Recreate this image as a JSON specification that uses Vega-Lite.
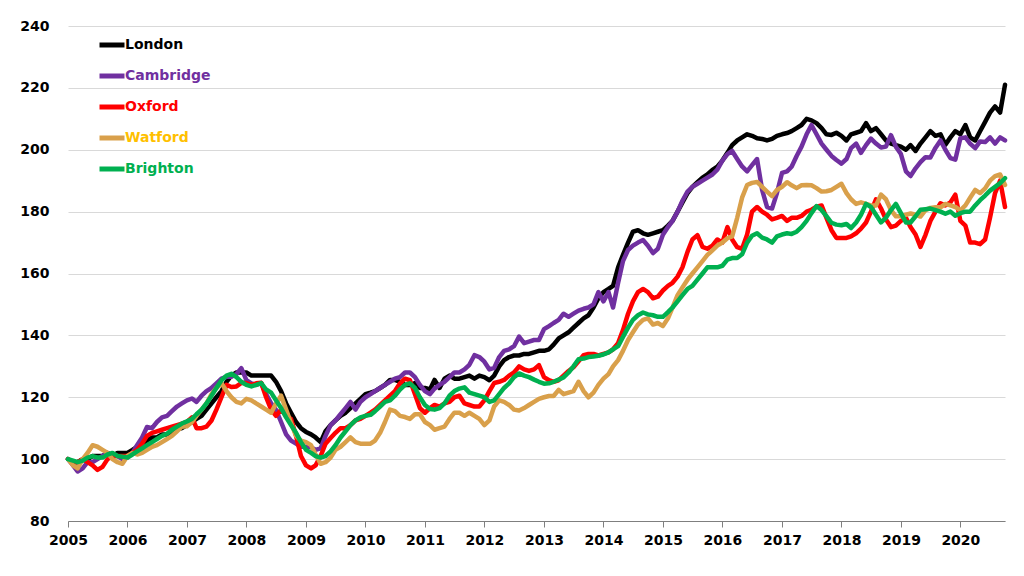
{
"$schema": "https://vega.github.io/schema/vega-lite/v6.json",
"width": 937, "height": 495,
"autosize": "none",
"padding": {"left": 68, "top": 26, "right": 19, "bottom": 55},
"background": "white",
"config": {"view": {"stroke": null}, "font": "DejaVu Sans"},
"data": {"format": {"parse": {"d": "utc:'%Y-%m'"}}, "values": [
{"d":"2005-01","s":"London","v":100},{"d":"2005-02","s":"London","v":99},{"d":"2005-03","s":"London","v":99},{"d":"2005-04","s":"London","v":100},{"d":"2005-05","s":"London","v":100},{"d":"2005-06","s":"London","v":101},{"d":"2005-07","s":"London","v":101},{"d":"2005-08","s":"London","v":101},{"d":"2005-09","s":"London","v":102},{"d":"2005-10","s":"London","v":101},{"d":"2005-11","s":"London","v":102},{"d":"2005-12","s":"London","v":102},
{"d":"2006-01","s":"London","v":102},{"d":"2006-02","s":"London","v":103},{"d":"2006-03","s":"London","v":104},{"d":"2006-04","s":"London","v":105},{"d":"2006-05","s":"London","v":106},{"d":"2006-06","s":"London","v":107},{"d":"2006-07","s":"London","v":107},{"d":"2006-08","s":"London","v":108},{"d":"2006-09","s":"London","v":108},{"d":"2006-10","s":"London","v":109},{"d":"2006-11","s":"London","v":110},{"d":"2006-12","s":"London","v":110},
{"d":"2007-01","s":"London","v":111},{"d":"2007-02","s":"London","v":112},{"d":"2007-03","s":"London","v":113},{"d":"2007-04","s":"London","v":114},{"d":"2007-05","s":"London","v":116},{"d":"2007-06","s":"London","v":118},{"d":"2007-07","s":"London","v":120},{"d":"2007-08","s":"London","v":122},{"d":"2007-09","s":"London","v":125},{"d":"2007-10","s":"London","v":127},{"d":"2007-11","s":"London","v":128},{"d":"2007-12","s":"London","v":128},
{"d":"2008-01","s":"London","v":128},{"d":"2008-02","s":"London","v":127},{"d":"2008-03","s":"London","v":127},{"d":"2008-04","s":"London","v":127},{"d":"2008-05","s":"London","v":127},{"d":"2008-06","s":"London","v":127},{"d":"2008-07","s":"London","v":125},{"d":"2008-08","s":"London","v":122},{"d":"2008-09","s":"London","v":118},{"d":"2008-10","s":"London","v":115},{"d":"2008-11","s":"London","v":112},{"d":"2008-12","s":"London","v":110},
{"d":"2009-01","s":"London","v":108.8},{"d":"2009-02","s":"London","v":108},{"d":"2009-03","s":"London","v":107},{"d":"2009-04","s":"London","v":105.5},{"d":"2009-05","s":"London","v":109},{"d":"2009-06","s":"London","v":111},{"d":"2009-07","s":"London","v":112.5},{"d":"2009-08","s":"London","v":114},{"d":"2009-09","s":"London","v":115},{"d":"2009-10","s":"London","v":116.5},{"d":"2009-11","s":"London","v":118},{"d":"2009-12","s":"London","v":119.5},
{"d":"2010-01","s":"London","v":121},{"d":"2010-02","s":"London","v":121.5},{"d":"2010-03","s":"London","v":122},{"d":"2010-04","s":"London","v":123},{"d":"2010-05","s":"London","v":124},{"d":"2010-06","s":"London","v":125.6},{"d":"2010-07","s":"London","v":125.6},{"d":"2010-08","s":"London","v":125},{"d":"2010-09","s":"London","v":124},{"d":"2010-10","s":"London","v":124},{"d":"2010-11","s":"London","v":124.6},{"d":"2010-12","s":"London","v":123},
{"d":"2011-01","s":"London","v":123},{"d":"2011-02","s":"London","v":122.5},{"d":"2011-03","s":"London","v":125.6},{"d":"2011-04","s":"London","v":123},{"d":"2011-05","s":"London","v":126},{"d":"2011-06","s":"London","v":127},{"d":"2011-07","s":"London","v":126},{"d":"2011-08","s":"London","v":126},{"d":"2011-09","s":"London","v":126.5},{"d":"2011-10","s":"London","v":127},{"d":"2011-11","s":"London","v":126},{"d":"2011-12","s":"London","v":127},
{"d":"2012-01","s":"London","v":126.5},{"d":"2012-02","s":"London","v":125.5},{"d":"2012-03","s":"London","v":127},{"d":"2012-04","s":"London","v":130},{"d":"2012-05","s":"London","v":132},{"d":"2012-06","s":"London","v":133},{"d":"2012-07","s":"London","v":133.5},{"d":"2012-08","s":"London","v":133.5},{"d":"2012-09","s":"London","v":134},{"d":"2012-10","s":"London","v":134},{"d":"2012-11","s":"London","v":134.5},{"d":"2012-12","s":"London","v":135},
{"d":"2013-01","s":"London","v":135},{"d":"2013-02","s":"London","v":135.5},{"d":"2013-03","s":"London","v":137},{"d":"2013-04","s":"London","v":139},{"d":"2013-05","s":"London","v":140},{"d":"2013-06","s":"London","v":141},{"d":"2013-07","s":"London","v":142.5},{"d":"2013-08","s":"London","v":144},{"d":"2013-09","s":"London","v":145.5},{"d":"2013-10","s":"London","v":146.5},{"d":"2013-11","s":"London","v":149},{"d":"2013-12","s":"London","v":152},
{"d":"2014-01","s":"London","v":154},{"d":"2014-02","s":"London","v":155},{"d":"2014-03","s":"London","v":156},{"d":"2014-04","s":"London","v":162},{"d":"2014-05","s":"London","v":166},{"d":"2014-06","s":"London","v":170},{"d":"2014-07","s":"London","v":173.5},{"d":"2014-08","s":"London","v":174},{"d":"2014-09","s":"London","v":173},{"d":"2014-10","s":"London","v":172.5},{"d":"2014-11","s":"London","v":173},{"d":"2014-12","s":"London","v":173.5},
{"d":"2015-01","s":"London","v":174},{"d":"2015-02","s":"London","v":175.5},{"d":"2015-03","s":"London","v":177},{"d":"2015-04","s":"London","v":180},{"d":"2015-05","s":"London","v":183},{"d":"2015-06","s":"London","v":186},{"d":"2015-07","s":"London","v":188},{"d":"2015-08","s":"London","v":189.5},{"d":"2015-09","s":"London","v":191},{"d":"2015-10","s":"London","v":192},{"d":"2015-11","s":"London","v":193.5},{"d":"2015-12","s":"London","v":194.5},
{"d":"2016-01","s":"London","v":196.5},{"d":"2016-02","s":"London","v":199},{"d":"2016-03","s":"London","v":201.5},{"d":"2016-04","s":"London","v":203},{"d":"2016-05","s":"London","v":204},{"d":"2016-06","s":"London","v":205},{"d":"2016-07","s":"London","v":204.5},{"d":"2016-08","s":"London","v":203.7},{"d":"2016-09","s":"London","v":203.5},{"d":"2016-10","s":"London","v":203},{"d":"2016-11","s":"London","v":203.5},{"d":"2016-12","s":"London","v":204.5},
{"d":"2017-01","s":"London","v":205},{"d":"2017-02","s":"London","v":205.4},{"d":"2017-03","s":"London","v":206},{"d":"2017-04","s":"London","v":207},{"d":"2017-05","s":"London","v":208},{"d":"2017-06","s":"London","v":210},{"d":"2017-07","s":"London","v":209.5},{"d":"2017-08","s":"London","v":208.6},{"d":"2017-09","s":"London","v":207},{"d":"2017-10","s":"London","v":205},{"d":"2017-11","s":"London","v":204.8},{"d":"2017-12","s":"London","v":205.5},
{"d":"2018-01","s":"London","v":204.5},{"d":"2018-02","s":"London","v":203},{"d":"2018-03","s":"London","v":205},{"d":"2018-04","s":"London","v":205.5},{"d":"2018-05","s":"London","v":206},{"d":"2018-06","s":"London","v":208.6},{"d":"2018-07","s":"London","v":206},{"d":"2018-08","s":"London","v":207},{"d":"2018-09","s":"London","v":205},{"d":"2018-10","s":"London","v":203},{"d":"2018-11","s":"London","v":202},{"d":"2018-12","s":"London","v":201.5},
{"d":"2019-01","s":"London","v":201},{"d":"2019-02","s":"London","v":200},{"d":"2019-03","s":"London","v":201.5},{"d":"2019-04","s":"London","v":199.6},{"d":"2019-05","s":"London","v":202},{"d":"2019-06","s":"London","v":204},{"d":"2019-07","s":"London","v":206},{"d":"2019-08","s":"London","v":204.5},{"d":"2019-09","s":"London","v":205},{"d":"2019-10","s":"London","v":201.6},{"d":"2019-11","s":"London","v":204},{"d":"2019-12","s":"London","v":206},
{"d":"2020-01","s":"London","v":205},{"d":"2020-02","s":"London","v":208},{"d":"2020-03","s":"London","v":204},{"d":"2020-04","s":"London","v":203},{"d":"2020-05","s":"London","v":206},{"d":"2020-06","s":"London","v":209},{"d":"2020-07","s":"London","v":212},{"d":"2020-08","s":"London","v":214},{"d":"2020-09","s":"London","v":212},{"d":"2020-10","s":"London","v":221},
{"d":"2005-01","s":"Cambridge","v":100},{"d":"2005-02","s":"Cambridge","v":98},{"d":"2005-03","s":"Cambridge","v":96},{"d":"2005-04","s":"Cambridge","v":97},{"d":"2005-05","s":"Cambridge","v":99},{"d":"2005-06","s":"Cambridge","v":99},{"d":"2005-07","s":"Cambridge","v":100},{"d":"2005-08","s":"Cambridge","v":101},{"d":"2005-09","s":"Cambridge","v":102},{"d":"2005-10","s":"Cambridge","v":101},{"d":"2005-11","s":"Cambridge","v":101},{"d":"2005-12","s":"Cambridge","v":100},
{"d":"2006-01","s":"Cambridge","v":100.5},{"d":"2006-02","s":"Cambridge","v":102},{"d":"2006-03","s":"Cambridge","v":104.5},{"d":"2006-04","s":"Cambridge","v":107},{"d":"2006-05","s":"Cambridge","v":110.4},{"d":"2006-06","s":"Cambridge","v":110},{"d":"2006-07","s":"Cambridge","v":112},{"d":"2006-08","s":"Cambridge","v":113.5},{"d":"2006-09","s":"Cambridge","v":114},{"d":"2006-10","s":"Cambridge","v":115.5},{"d":"2006-11","s":"Cambridge","v":117},{"d":"2006-12","s":"Cambridge","v":118},
{"d":"2007-01","s":"Cambridge","v":119},{"d":"2007-02","s":"Cambridge","v":119.6},{"d":"2007-03","s":"Cambridge","v":118.5},{"d":"2007-04","s":"Cambridge","v":120.5},{"d":"2007-05","s":"Cambridge","v":122},{"d":"2007-06","s":"Cambridge","v":123},{"d":"2007-07","s":"Cambridge","v":124.5},{"d":"2007-08","s":"Cambridge","v":126},{"d":"2007-09","s":"Cambridge","v":126.6},{"d":"2007-10","s":"Cambridge","v":126.6},{"d":"2007-11","s":"Cambridge","v":127.5},{"d":"2007-12","s":"Cambridge","v":129.4},
{"d":"2008-01","s":"Cambridge","v":125.5},{"d":"2008-02","s":"Cambridge","v":124.5},{"d":"2008-03","s":"Cambridge","v":124},{"d":"2008-04","s":"Cambridge","v":124.6},{"d":"2008-05","s":"Cambridge","v":121},{"d":"2008-06","s":"Cambridge","v":118},{"d":"2008-07","s":"Cambridge","v":115.9},{"d":"2008-08","s":"Cambridge","v":112},{"d":"2008-09","s":"Cambridge","v":108},{"d":"2008-10","s":"Cambridge","v":106},{"d":"2008-11","s":"Cambridge","v":105},{"d":"2008-12","s":"Cambridge","v":104},
{"d":"2009-01","s":"Cambridge","v":104},{"d":"2009-02","s":"Cambridge","v":103.8},{"d":"2009-03","s":"Cambridge","v":103},{"d":"2009-04","s":"Cambridge","v":103.5},{"d":"2009-05","s":"Cambridge","v":107.5},{"d":"2009-06","s":"Cambridge","v":111},{"d":"2009-07","s":"Cambridge","v":112.5},{"d":"2009-08","s":"Cambridge","v":114.5},{"d":"2009-09","s":"Cambridge","v":116.5},{"d":"2009-10","s":"Cambridge","v":118.5},{"d":"2009-11","s":"Cambridge","v":116},{"d":"2009-12","s":"Cambridge","v":118.5},
{"d":"2010-01","s":"Cambridge","v":120},{"d":"2010-02","s":"Cambridge","v":121},{"d":"2010-03","s":"Cambridge","v":122},{"d":"2010-04","s":"Cambridge","v":123},{"d":"2010-05","s":"Cambridge","v":124},{"d":"2010-06","s":"Cambridge","v":125},{"d":"2010-07","s":"Cambridge","v":126},{"d":"2010-08","s":"Cambridge","v":126.5},{"d":"2010-09","s":"Cambridge","v":128},{"d":"2010-10","s":"Cambridge","v":128},{"d":"2010-11","s":"Cambridge","v":126.5},{"d":"2010-12","s":"Cambridge","v":124},
{"d":"2011-01","s":"Cambridge","v":122},{"d":"2011-02","s":"Cambridge","v":121},{"d":"2011-03","s":"Cambridge","v":122.8},{"d":"2011-04","s":"Cambridge","v":124},{"d":"2011-05","s":"Cambridge","v":125},{"d":"2011-06","s":"Cambridge","v":126.5},{"d":"2011-07","s":"Cambridge","v":128},{"d":"2011-08","s":"Cambridge","v":128},{"d":"2011-09","s":"Cambridge","v":129},{"d":"2011-10","s":"Cambridge","v":130.5},{"d":"2011-11","s":"Cambridge","v":133.6},{"d":"2011-12","s":"Cambridge","v":133},
{"d":"2012-01","s":"Cambridge","v":131.5},{"d":"2012-02","s":"Cambridge","v":129},{"d":"2012-03","s":"Cambridge","v":129.5},{"d":"2012-04","s":"Cambridge","v":133},{"d":"2012-05","s":"Cambridge","v":135},{"d":"2012-06","s":"Cambridge","v":135.5},{"d":"2012-07","s":"Cambridge","v":136.5},{"d":"2012-08","s":"Cambridge","v":139.6},{"d":"2012-09","s":"Cambridge","v":137.5},{"d":"2012-10","s":"Cambridge","v":138},{"d":"2012-11","s":"Cambridge","v":138.5},{"d":"2012-12","s":"Cambridge","v":138.5},
{"d":"2013-01","s":"Cambridge","v":142},{"d":"2013-02","s":"Cambridge","v":143},{"d":"2013-03","s":"Cambridge","v":144},{"d":"2013-04","s":"Cambridge","v":145},{"d":"2013-05","s":"Cambridge","v":147},{"d":"2013-06","s":"Cambridge","v":146},{"d":"2013-07","s":"Cambridge","v":147},{"d":"2013-08","s":"Cambridge","v":148},{"d":"2013-09","s":"Cambridge","v":148.6},{"d":"2013-10","s":"Cambridge","v":149},{"d":"2013-11","s":"Cambridge","v":150},{"d":"2013-12","s":"Cambridge","v":154},
{"d":"2014-01","s":"Cambridge","v":151},{"d":"2014-02","s":"Cambridge","v":154},{"d":"2014-03","s":"Cambridge","v":149},{"d":"2014-04","s":"Cambridge","v":157},{"d":"2014-05","s":"Cambridge","v":164},{"d":"2014-06","s":"Cambridge","v":167.6},{"d":"2014-07","s":"Cambridge","v":169},{"d":"2014-08","s":"Cambridge","v":170},{"d":"2014-09","s":"Cambridge","v":170.8},{"d":"2014-10","s":"Cambridge","v":169},{"d":"2014-11","s":"Cambridge","v":166.6},{"d":"2014-12","s":"Cambridge","v":168},
{"d":"2015-01","s":"Cambridge","v":172.5},{"d":"2015-02","s":"Cambridge","v":175},{"d":"2015-03","s":"Cambridge","v":177},{"d":"2015-04","s":"Cambridge","v":180},{"d":"2015-05","s":"Cambridge","v":183.5},{"d":"2015-06","s":"Cambridge","v":186.5},{"d":"2015-07","s":"Cambridge","v":188},{"d":"2015-08","s":"Cambridge","v":189},{"d":"2015-09","s":"Cambridge","v":190},{"d":"2015-10","s":"Cambridge","v":191},{"d":"2015-11","s":"Cambridge","v":192},{"d":"2015-12","s":"Cambridge","v":193.6},
{"d":"2016-01","s":"Cambridge","v":196.5},{"d":"2016-02","s":"Cambridge","v":198.6},{"d":"2016-03","s":"Cambridge","v":199.6},{"d":"2016-04","s":"Cambridge","v":197},{"d":"2016-05","s":"Cambridge","v":194.6},{"d":"2016-06","s":"Cambridge","v":193},{"d":"2016-07","s":"Cambridge","v":195},{"d":"2016-08","s":"Cambridge","v":197},{"d":"2016-09","s":"Cambridge","v":187},{"d":"2016-10","s":"Cambridge","v":181.5},{"d":"2016-11","s":"Cambridge","v":181},{"d":"2016-12","s":"Cambridge","v":186},
{"d":"2017-01","s":"Cambridge","v":192.5},{"d":"2017-02","s":"Cambridge","v":193},{"d":"2017-03","s":"Cambridge","v":194.5},{"d":"2017-04","s":"Cambridge","v":198},{"d":"2017-05","s":"Cambridge","v":201},{"d":"2017-06","s":"Cambridge","v":205},{"d":"2017-07","s":"Cambridge","v":208},{"d":"2017-08","s":"Cambridge","v":205},{"d":"2017-09","s":"Cambridge","v":202},{"d":"2017-10","s":"Cambridge","v":200},{"d":"2017-11","s":"Cambridge","v":198},{"d":"2017-12","s":"Cambridge","v":196.7},
{"d":"2018-01","s":"Cambridge","v":195.5},{"d":"2018-02","s":"Cambridge","v":197},{"d":"2018-03","s":"Cambridge","v":200.5},{"d":"2018-04","s":"Cambridge","v":202},{"d":"2018-05","s":"Cambridge","v":199},{"d":"2018-06","s":"Cambridge","v":201.5},{"d":"2018-07","s":"Cambridge","v":203.6},{"d":"2018-08","s":"Cambridge","v":202},{"d":"2018-09","s":"Cambridge","v":200.7},{"d":"2018-10","s":"Cambridge","v":201},{"d":"2018-11","s":"Cambridge","v":204.7},{"d":"2018-12","s":"Cambridge","v":201},
{"d":"2019-01","s":"Cambridge","v":198.6},{"d":"2019-02","s":"Cambridge","v":193},{"d":"2019-03","s":"Cambridge","v":191.5},{"d":"2019-04","s":"Cambridge","v":194},{"d":"2019-05","s":"Cambridge","v":196},{"d":"2019-06","s":"Cambridge","v":197.6},{"d":"2019-07","s":"Cambridge","v":197.5},{"d":"2019-08","s":"Cambridge","v":200.6},{"d":"2019-09","s":"Cambridge","v":203},{"d":"2019-10","s":"Cambridge","v":200},{"d":"2019-11","s":"Cambridge","v":197.3},{"d":"2019-12","s":"Cambridge","v":196.8},
{"d":"2020-01","s":"Cambridge","v":203.7},{"d":"2020-02","s":"Cambridge","v":204},{"d":"2020-03","s":"Cambridge","v":202},{"d":"2020-04","s":"Cambridge","v":200.5},{"d":"2020-05","s":"Cambridge","v":202.7},{"d":"2020-06","s":"Cambridge","v":202.5},{"d":"2020-07","s":"Cambridge","v":204},{"d":"2020-08","s":"Cambridge","v":202},{"d":"2020-09","s":"Cambridge","v":204},{"d":"2020-10","s":"Cambridge","v":203},
{"d":"2005-01","s":"Oxford","v":100},{"d":"2005-02","s":"Oxford","v":99},{"d":"2005-03","s":"Oxford","v":99},{"d":"2005-04","s":"Oxford","v":100},{"d":"2005-05","s":"Oxford","v":99},{"d":"2005-06","s":"Oxford","v":98},{"d":"2005-07","s":"Oxford","v":96.5},{"d":"2005-08","s":"Oxford","v":97.5},{"d":"2005-09","s":"Oxford","v":100},{"d":"2005-10","s":"Oxford","v":101},{"d":"2005-11","s":"Oxford","v":101},{"d":"2005-12","s":"Oxford","v":101},
{"d":"2006-01","s":"Oxford","v":101},{"d":"2006-02","s":"Oxford","v":102},{"d":"2006-03","s":"Oxford","v":103},{"d":"2006-04","s":"Oxford","v":105},{"d":"2006-05","s":"Oxford","v":107.5},{"d":"2006-06","s":"Oxford","v":108.5},{"d":"2006-07","s":"Oxford","v":109},{"d":"2006-08","s":"Oxford","v":109.5},{"d":"2006-09","s":"Oxford","v":110},{"d":"2006-10","s":"Oxford","v":110.5},{"d":"2006-11","s":"Oxford","v":111},{"d":"2006-12","s":"Oxford","v":111.5},
{"d":"2007-01","s":"Oxford","v":112},{"d":"2007-02","s":"Oxford","v":113.5},{"d":"2007-03","s":"Oxford","v":110},{"d":"2007-04","s":"Oxford","v":110},{"d":"2007-05","s":"Oxford","v":110.5},{"d":"2007-06","s":"Oxford","v":112.5},{"d":"2007-07","s":"Oxford","v":116},{"d":"2007-08","s":"Oxford","v":120},{"d":"2007-09","s":"Oxford","v":124},{"d":"2007-10","s":"Oxford","v":123.3},{"d":"2007-11","s":"Oxford","v":123.5},{"d":"2007-12","s":"Oxford","v":124.6},
{"d":"2008-01","s":"Oxford","v":124.6},{"d":"2008-02","s":"Oxford","v":124},{"d":"2008-03","s":"Oxford","v":124.5},{"d":"2008-04","s":"Oxford","v":124.7},{"d":"2008-05","s":"Oxford","v":120},{"d":"2008-06","s":"Oxford","v":116},{"d":"2008-07","s":"Oxford","v":114},{"d":"2008-08","s":"Oxford","v":116},{"d":"2008-09","s":"Oxford","v":114},{"d":"2008-10","s":"Oxford","v":113},{"d":"2008-11","s":"Oxford","v":107.5},{"d":"2008-12","s":"Oxford","v":101},
{"d":"2009-01","s":"Oxford","v":98},{"d":"2009-02","s":"Oxford","v":97},{"d":"2009-03","s":"Oxford","v":98},{"d":"2009-04","s":"Oxford","v":101},{"d":"2009-05","s":"Oxford","v":105},{"d":"2009-06","s":"Oxford","v":106.8},{"d":"2009-07","s":"Oxford","v":108.5},{"d":"2009-08","s":"Oxford","v":110},{"d":"2009-09","s":"Oxford","v":110},{"d":"2009-10","s":"Oxford","v":111},{"d":"2009-11","s":"Oxford","v":112.5},{"d":"2009-12","s":"Oxford","v":113},
{"d":"2010-01","s":"Oxford","v":114},{"d":"2010-02","s":"Oxford","v":115},{"d":"2010-03","s":"Oxford","v":116},{"d":"2010-04","s":"Oxford","v":117.5},{"d":"2010-05","s":"Oxford","v":119},{"d":"2010-06","s":"Oxford","v":120.5},{"d":"2010-07","s":"Oxford","v":122},{"d":"2010-08","s":"Oxford","v":124.5},{"d":"2010-09","s":"Oxford","v":126},{"d":"2010-10","s":"Oxford","v":125.5},{"d":"2010-11","s":"Oxford","v":121},{"d":"2010-12","s":"Oxford","v":116.5},
{"d":"2011-01","s":"Oxford","v":115},{"d":"2011-02","s":"Oxford","v":116.5},{"d":"2011-03","s":"Oxford","v":117.5},{"d":"2011-04","s":"Oxford","v":117},{"d":"2011-05","s":"Oxford","v":118},{"d":"2011-06","s":"Oxford","v":118.5},{"d":"2011-07","s":"Oxford","v":120},{"d":"2011-08","s":"Oxford","v":120.5},{"d":"2011-09","s":"Oxford","v":118},{"d":"2011-10","s":"Oxford","v":117.5},{"d":"2011-11","s":"Oxford","v":117},{"d":"2011-12","s":"Oxford","v":117},
{"d":"2012-01","s":"Oxford","v":119},{"d":"2012-02","s":"Oxford","v":122},{"d":"2012-03","s":"Oxford","v":124.6},{"d":"2012-04","s":"Oxford","v":125},{"d":"2012-05","s":"Oxford","v":125.6},{"d":"2012-06","s":"Oxford","v":127},{"d":"2012-07","s":"Oxford","v":128},{"d":"2012-08","s":"Oxford","v":130},{"d":"2012-09","s":"Oxford","v":129},{"d":"2012-10","s":"Oxford","v":128.5},{"d":"2012-11","s":"Oxford","v":129},{"d":"2012-12","s":"Oxford","v":130.4},
{"d":"2013-01","s":"Oxford","v":126.5},{"d":"2013-02","s":"Oxford","v":125.5},{"d":"2013-03","s":"Oxford","v":125},{"d":"2013-04","s":"Oxford","v":125.5},{"d":"2013-05","s":"Oxford","v":127},{"d":"2013-06","s":"Oxford","v":128.5},{"d":"2013-07","s":"Oxford","v":129.7},{"d":"2013-08","s":"Oxford","v":131.6},{"d":"2013-09","s":"Oxford","v":133.6},{"d":"2013-10","s":"Oxford","v":134},{"d":"2013-11","s":"Oxford","v":134},{"d":"2013-12","s":"Oxford","v":133.5},
{"d":"2014-01","s":"Oxford","v":134},{"d":"2014-02","s":"Oxford","v":134.5},{"d":"2014-03","s":"Oxford","v":135.5},{"d":"2014-04","s":"Oxford","v":137.5},{"d":"2014-05","s":"Oxford","v":141.7},{"d":"2014-06","s":"Oxford","v":147},{"d":"2014-07","s":"Oxford","v":151},{"d":"2014-08","s":"Oxford","v":154},{"d":"2014-09","s":"Oxford","v":155},{"d":"2014-10","s":"Oxford","v":154},{"d":"2014-11","s":"Oxford","v":152},{"d":"2014-12","s":"Oxford","v":152.5},
{"d":"2015-01","s":"Oxford","v":154.5},{"d":"2015-02","s":"Oxford","v":156},{"d":"2015-03","s":"Oxford","v":157},{"d":"2015-04","s":"Oxford","v":159},{"d":"2015-05","s":"Oxford","v":162},{"d":"2015-06","s":"Oxford","v":167},{"d":"2015-07","s":"Oxford","v":171},{"d":"2015-08","s":"Oxford","v":172.4},{"d":"2015-09","s":"Oxford","v":168.6},{"d":"2015-10","s":"Oxford","v":168},{"d":"2015-11","s":"Oxford","v":169},{"d":"2015-12","s":"Oxford","v":171},
{"d":"2016-01","s":"Oxford","v":170},{"d":"2016-02","s":"Oxford","v":175},{"d":"2016-03","s":"Oxford","v":171},{"d":"2016-04","s":"Oxford","v":168.5},{"d":"2016-05","s":"Oxford","v":168},{"d":"2016-06","s":"Oxford","v":172.6},{"d":"2016-07","s":"Oxford","v":180},{"d":"2016-08","s":"Oxford","v":181.5},{"d":"2016-09","s":"Oxford","v":180},{"d":"2016-10","s":"Oxford","v":179},{"d":"2016-11","s":"Oxford","v":177.5},{"d":"2016-12","s":"Oxford","v":178},
{"d":"2017-01","s":"Oxford","v":178.6},{"d":"2017-02","s":"Oxford","v":177},{"d":"2017-03","s":"Oxford","v":178},{"d":"2017-04","s":"Oxford","v":178},{"d":"2017-05","s":"Oxford","v":178.6},{"d":"2017-06","s":"Oxford","v":180},{"d":"2017-07","s":"Oxford","v":180.6},{"d":"2017-08","s":"Oxford","v":181.6},{"d":"2017-09","s":"Oxford","v":182},{"d":"2017-10","s":"Oxford","v":178},{"d":"2017-11","s":"Oxford","v":174},{"d":"2017-12","s":"Oxford","v":171.5},
{"d":"2018-01","s":"Oxford","v":171.5},{"d":"2018-02","s":"Oxford","v":171.5},{"d":"2018-03","s":"Oxford","v":172},{"d":"2018-04","s":"Oxford","v":173},{"d":"2018-05","s":"Oxford","v":174.5},{"d":"2018-06","s":"Oxford","v":176.5},{"d":"2018-07","s":"Oxford","v":180},{"d":"2018-08","s":"Oxford","v":184},{"d":"2018-09","s":"Oxford","v":181},{"d":"2018-10","s":"Oxford","v":177.5},{"d":"2018-11","s":"Oxford","v":175},{"d":"2018-12","s":"Oxford","v":175.5},
{"d":"2019-01","s":"Oxford","v":177},{"d":"2019-02","s":"Oxford","v":178},{"d":"2019-03","s":"Oxford","v":175},{"d":"2019-04","s":"Oxford","v":172.6},{"d":"2019-05","s":"Oxford","v":168.6},{"d":"2019-06","s":"Oxford","v":172.5},{"d":"2019-07","s":"Oxford","v":177},{"d":"2019-08","s":"Oxford","v":180},{"d":"2019-09","s":"Oxford","v":182.7},{"d":"2019-10","s":"Oxford","v":182},{"d":"2019-11","s":"Oxford","v":183},{"d":"2019-12","s":"Oxford","v":185.5},
{"d":"2020-01","s":"Oxford","v":177},{"d":"2020-02","s":"Oxford","v":175.5},{"d":"2020-03","s":"Oxford","v":170},{"d":"2020-04","s":"Oxford","v":170},{"d":"2020-05","s":"Oxford","v":169.5},{"d":"2020-06","s":"Oxford","v":171},{"d":"2020-07","s":"Oxford","v":178},{"d":"2020-08","s":"Oxford","v":186},{"d":"2020-09","s":"Oxford","v":190},{"d":"2020-10","s":"Oxford","v":181.5},
{"d":"2005-01","s":"Watford","v":100},{"d":"2005-02","s":"Watford","v":98},{"d":"2005-03","s":"Watford","v":97},{"d":"2005-04","s":"Watford","v":100},{"d":"2005-05","s":"Watford","v":102},{"d":"2005-06","s":"Watford","v":104.5},{"d":"2005-07","s":"Watford","v":104},{"d":"2005-08","s":"Watford","v":103},{"d":"2005-09","s":"Watford","v":102},{"d":"2005-10","s":"Watford","v":100},{"d":"2005-11","s":"Watford","v":99},{"d":"2005-12","s":"Watford","v":98.5},
{"d":"2006-01","s":"Watford","v":101},{"d":"2006-02","s":"Watford","v":102},{"d":"2006-03","s":"Watford","v":101.5},{"d":"2006-04","s":"Watford","v":102},{"d":"2006-05","s":"Watford","v":103},{"d":"2006-06","s":"Watford","v":104},{"d":"2006-07","s":"Watford","v":104.5},{"d":"2006-08","s":"Watford","v":105.5},{"d":"2006-09","s":"Watford","v":106.5},{"d":"2006-10","s":"Watford","v":107.5},{"d":"2006-11","s":"Watford","v":109},{"d":"2006-12","s":"Watford","v":110.5},
{"d":"2007-01","s":"Watford","v":110.6},{"d":"2007-02","s":"Watford","v":112},{"d":"2007-03","s":"Watford","v":114},{"d":"2007-04","s":"Watford","v":116},{"d":"2007-05","s":"Watford","v":118},{"d":"2007-06","s":"Watford","v":121},{"d":"2007-07","s":"Watford","v":123},{"d":"2007-08","s":"Watford","v":124.5},{"d":"2007-09","s":"Watford","v":122},{"d":"2007-10","s":"Watford","v":120},{"d":"2007-11","s":"Watford","v":118.5},{"d":"2007-12","s":"Watford","v":118},
{"d":"2008-01","s":"Watford","v":119.5},{"d":"2008-02","s":"Watford","v":119},{"d":"2008-03","s":"Watford","v":118},{"d":"2008-04","s":"Watford","v":117},{"d":"2008-05","s":"Watford","v":116},{"d":"2008-06","s":"Watford","v":115},{"d":"2008-07","s":"Watford","v":118},{"d":"2008-08","s":"Watford","v":120.5},{"d":"2008-09","s":"Watford","v":116},{"d":"2008-10","s":"Watford","v":111.7},{"d":"2008-11","s":"Watford","v":107.5},{"d":"2008-12","s":"Watford","v":106},
{"d":"2009-01","s":"Watford","v":105.5},{"d":"2009-02","s":"Watford","v":104.5},{"d":"2009-03","s":"Watford","v":101.5},{"d":"2009-04","s":"Watford","v":98.5},{"d":"2009-05","s":"Watford","v":99},{"d":"2009-06","s":"Watford","v":100.5},{"d":"2009-07","s":"Watford","v":103},{"d":"2009-08","s":"Watford","v":104},{"d":"2009-09","s":"Watford","v":105.5},{"d":"2009-10","s":"Watford","v":107},{"d":"2009-11","s":"Watford","v":105.5},{"d":"2009-12","s":"Watford","v":105},
{"d":"2010-01","s":"Watford","v":105},{"d":"2010-02","s":"Watford","v":105},{"d":"2010-03","s":"Watford","v":106},{"d":"2010-04","s":"Watford","v":108.5},{"d":"2010-05","s":"Watford","v":112},{"d":"2010-06","s":"Watford","v":116},{"d":"2010-07","s":"Watford","v":115.5},{"d":"2010-08","s":"Watford","v":114},{"d":"2010-09","s":"Watford","v":113.6},{"d":"2010-10","s":"Watford","v":113},{"d":"2010-11","s":"Watford","v":114.5},{"d":"2010-12","s":"Watford","v":114.5},
{"d":"2011-01","s":"Watford","v":112},{"d":"2011-02","s":"Watford","v":111},{"d":"2011-03","s":"Watford","v":109.5},{"d":"2011-04","s":"Watford","v":110},{"d":"2011-05","s":"Watford","v":110.5},{"d":"2011-06","s":"Watford","v":113},{"d":"2011-07","s":"Watford","v":115},{"d":"2011-08","s":"Watford","v":115},{"d":"2011-09","s":"Watford","v":114},{"d":"2011-10","s":"Watford","v":115},{"d":"2011-11","s":"Watford","v":114},{"d":"2011-12","s":"Watford","v":113},
{"d":"2012-01","s":"Watford","v":111},{"d":"2012-02","s":"Watford","v":112.5},{"d":"2012-03","s":"Watford","v":117},{"d":"2012-04","s":"Watford","v":119},{"d":"2012-05","s":"Watford","v":118.5},{"d":"2012-06","s":"Watford","v":117.5},{"d":"2012-07","s":"Watford","v":116},{"d":"2012-08","s":"Watford","v":115.7},{"d":"2012-09","s":"Watford","v":116.5},{"d":"2012-10","s":"Watford","v":117.5},{"d":"2012-11","s":"Watford","v":118.5},{"d":"2012-12","s":"Watford","v":119.5},
{"d":"2013-01","s":"Watford","v":120},{"d":"2013-02","s":"Watford","v":120.4},{"d":"2013-03","s":"Watford","v":120.4},{"d":"2013-04","s":"Watford","v":122.4},{"d":"2013-05","s":"Watford","v":121},{"d":"2013-06","s":"Watford","v":121.5},{"d":"2013-07","s":"Watford","v":122},{"d":"2013-08","s":"Watford","v":125},{"d":"2013-09","s":"Watford","v":122},{"d":"2013-10","s":"Watford","v":120},{"d":"2013-11","s":"Watford","v":121.5},{"d":"2013-12","s":"Watford","v":124},
{"d":"2014-01","s":"Watford","v":126},{"d":"2014-02","s":"Watford","v":127.5},{"d":"2014-03","s":"Watford","v":130},{"d":"2014-04","s":"Watford","v":132},{"d":"2014-05","s":"Watford","v":135},{"d":"2014-06","s":"Watford","v":138.5},{"d":"2014-07","s":"Watford","v":141},{"d":"2014-08","s":"Watford","v":143.5},{"d":"2014-09","s":"Watford","v":145},{"d":"2014-10","s":"Watford","v":145.5},{"d":"2014-11","s":"Watford","v":143.5},{"d":"2014-12","s":"Watford","v":144},
{"d":"2015-01","s":"Watford","v":143},{"d":"2015-02","s":"Watford","v":145.5},{"d":"2015-03","s":"Watford","v":149},{"d":"2015-04","s":"Watford","v":153},{"d":"2015-05","s":"Watford","v":155.5},{"d":"2015-06","s":"Watford","v":158},{"d":"2015-07","s":"Watford","v":160},{"d":"2015-08","s":"Watford","v":162},{"d":"2015-09","s":"Watford","v":164},{"d":"2015-10","s":"Watford","v":166},{"d":"2015-11","s":"Watford","v":167.5},{"d":"2015-12","s":"Watford","v":169},
{"d":"2016-01","s":"Watford","v":170},{"d":"2016-02","s":"Watford","v":171.4},{"d":"2016-03","s":"Watford","v":172},{"d":"2016-04","s":"Watford","v":178},{"d":"2016-05","s":"Watford","v":184.5},{"d":"2016-06","s":"Watford","v":188.6},{"d":"2016-07","s":"Watford","v":189.3},{"d":"2016-08","s":"Watford","v":189.6},{"d":"2016-09","s":"Watford","v":188},{"d":"2016-10","s":"Watford","v":186.5},{"d":"2016-11","s":"Watford","v":185},{"d":"2016-12","s":"Watford","v":187},
{"d":"2017-01","s":"Watford","v":188},{"d":"2017-02","s":"Watford","v":189.5},{"d":"2017-03","s":"Watford","v":188.5},{"d":"2017-04","s":"Watford","v":187.6},{"d":"2017-05","s":"Watford","v":188.5},{"d":"2017-06","s":"Watford","v":188.6},{"d":"2017-07","s":"Watford","v":188.5},{"d":"2017-08","s":"Watford","v":187.6},{"d":"2017-09","s":"Watford","v":186.5},{"d":"2017-10","s":"Watford","v":186.6},{"d":"2017-11","s":"Watford","v":187},{"d":"2017-12","s":"Watford","v":188},
{"d":"2018-01","s":"Watford","v":189},{"d":"2018-02","s":"Watford","v":186},{"d":"2018-03","s":"Watford","v":184},{"d":"2018-04","s":"Watford","v":182.5},{"d":"2018-05","s":"Watford","v":183},{"d":"2018-06","s":"Watford","v":182.5},{"d":"2018-07","s":"Watford","v":182},{"d":"2018-08","s":"Watford","v":182},{"d":"2018-09","s":"Watford","v":185.5},{"d":"2018-10","s":"Watford","v":184},{"d":"2018-11","s":"Watford","v":180.5},{"d":"2018-12","s":"Watford","v":178.5},
{"d":"2019-01","s":"Watford","v":178.5},{"d":"2019-02","s":"Watford","v":179},{"d":"2019-03","s":"Watford","v":179.4},{"d":"2019-04","s":"Watford","v":179},{"d":"2019-05","s":"Watford","v":178.4},{"d":"2019-06","s":"Watford","v":180.5},{"d":"2019-07","s":"Watford","v":181.2},{"d":"2019-08","s":"Watford","v":181.4},{"d":"2019-09","s":"Watford","v":181.4},{"d":"2019-10","s":"Watford","v":182.5},{"d":"2019-11","s":"Watford","v":182},{"d":"2019-12","s":"Watford","v":181.5},
{"d":"2020-01","s":"Watford","v":180.4},{"d":"2020-02","s":"Watford","v":182},{"d":"2020-03","s":"Watford","v":184.5},{"d":"2020-04","s":"Watford","v":187},{"d":"2020-05","s":"Watford","v":186},{"d":"2020-06","s":"Watford","v":187.5},{"d":"2020-07","s":"Watford","v":190},{"d":"2020-08","s":"Watford","v":191.5},{"d":"2020-09","s":"Watford","v":192},{"d":"2020-10","s":"Watford","v":188.6},
{"d":"2005-01","s":"Brighton","v":100},{"d":"2005-02","s":"Brighton","v":99.5},{"d":"2005-03","s":"Brighton","v":99},{"d":"2005-04","s":"Brighton","v":99.5},{"d":"2005-05","s":"Brighton","v":100.5},{"d":"2005-06","s":"Brighton","v":101},{"d":"2005-07","s":"Brighton","v":100.5},{"d":"2005-08","s":"Brighton","v":100.5},{"d":"2005-09","s":"Brighton","v":101.5},{"d":"2005-10","s":"Brighton","v":102},{"d":"2005-11","s":"Brighton","v":101},{"d":"2005-12","s":"Brighton","v":100.8},
{"d":"2006-01","s":"Brighton","v":100.5},{"d":"2006-02","s":"Brighton","v":101.5},{"d":"2006-03","s":"Brighton","v":102.5},{"d":"2006-04","s":"Brighton","v":103.5},{"d":"2006-05","s":"Brighton","v":104.5},{"d":"2006-06","s":"Brighton","v":105.5},{"d":"2006-07","s":"Brighton","v":106.5},{"d":"2006-08","s":"Brighton","v":107.5},{"d":"2006-09","s":"Brighton","v":108.2},{"d":"2006-10","s":"Brighton","v":109.5},{"d":"2006-11","s":"Brighton","v":110.5},{"d":"2006-12","s":"Brighton","v":111.5},
{"d":"2007-01","s":"Brighton","v":112.2},{"d":"2007-02","s":"Brighton","v":113},{"d":"2007-03","s":"Brighton","v":114.5},{"d":"2007-04","s":"Brighton","v":116},{"d":"2007-05","s":"Brighton","v":118},{"d":"2007-06","s":"Brighton","v":120.5},{"d":"2007-07","s":"Brighton","v":123},{"d":"2007-08","s":"Brighton","v":125.5},{"d":"2007-09","s":"Brighton","v":127},{"d":"2007-10","s":"Brighton","v":127.6},{"d":"2007-11","s":"Brighton","v":126.5},{"d":"2007-12","s":"Brighton","v":125},
{"d":"2008-01","s":"Brighton","v":124},{"d":"2008-02","s":"Brighton","v":123.5},{"d":"2008-03","s":"Brighton","v":124},{"d":"2008-04","s":"Brighton","v":124.6},{"d":"2008-05","s":"Brighton","v":122.5},{"d":"2008-06","s":"Brighton","v":121.5},{"d":"2008-07","s":"Brighton","v":119},{"d":"2008-08","s":"Brighton","v":116.5},{"d":"2008-09","s":"Brighton","v":113.5},{"d":"2008-10","s":"Brighton","v":111},{"d":"2008-11","s":"Brighton","v":108.5},{"d":"2008-12","s":"Brighton","v":105.5},
{"d":"2009-01","s":"Brighton","v":103},{"d":"2009-02","s":"Brighton","v":102},{"d":"2009-03","s":"Brighton","v":101},{"d":"2009-04","s":"Brighton","v":100.5},{"d":"2009-05","s":"Brighton","v":101},{"d":"2009-06","s":"Brighton","v":102.5},{"d":"2009-07","s":"Brighton","v":104.5},{"d":"2009-08","s":"Brighton","v":107},{"d":"2009-09","s":"Brighton","v":109},{"d":"2009-10","s":"Brighton","v":111},{"d":"2009-11","s":"Brighton","v":112.5},{"d":"2009-12","s":"Brighton","v":113.5},
{"d":"2010-01","s":"Brighton","v":114},{"d":"2010-02","s":"Brighton","v":114.3},{"d":"2010-03","s":"Brighton","v":115.5},{"d":"2010-04","s":"Brighton","v":117},{"d":"2010-05","s":"Brighton","v":118.5},{"d":"2010-06","s":"Brighton","v":119},{"d":"2010-07","s":"Brighton","v":120.5},{"d":"2010-08","s":"Brighton","v":122.5},{"d":"2010-09","s":"Brighton","v":124},{"d":"2010-10","s":"Brighton","v":124.5},{"d":"2010-11","s":"Brighton","v":123},{"d":"2010-12","s":"Brighton","v":120},
{"d":"2011-01","s":"Brighton","v":117.5},{"d":"2011-02","s":"Brighton","v":116.2},{"d":"2011-03","s":"Brighton","v":116},{"d":"2011-04","s":"Brighton","v":116.5},{"d":"2011-05","s":"Brighton","v":118},{"d":"2011-06","s":"Brighton","v":120.5},{"d":"2011-07","s":"Brighton","v":122},{"d":"2011-08","s":"Brighton","v":122.8},{"d":"2011-09","s":"Brighton","v":123.2},{"d":"2011-10","s":"Brighton","v":121.5},{"d":"2011-11","s":"Brighton","v":121},{"d":"2011-12","s":"Brighton","v":120.5},
{"d":"2012-01","s":"Brighton","v":120},{"d":"2012-02","s":"Brighton","v":118.5},{"d":"2012-03","s":"Brighton","v":119},{"d":"2012-04","s":"Brighton","v":121},{"d":"2012-05","s":"Brighton","v":123},{"d":"2012-06","s":"Brighton","v":124.5},{"d":"2012-07","s":"Brighton","v":126.5},{"d":"2012-08","s":"Brighton","v":127.7},{"d":"2012-09","s":"Brighton","v":127},{"d":"2012-10","s":"Brighton","v":126.5},{"d":"2012-11","s":"Brighton","v":125.7},{"d":"2012-12","s":"Brighton","v":125},
{"d":"2013-01","s":"Brighton","v":124.4},{"d":"2013-02","s":"Brighton","v":124.5},{"d":"2013-03","s":"Brighton","v":125},{"d":"2013-04","s":"Brighton","v":125.7},{"d":"2013-05","s":"Brighton","v":126.4},{"d":"2013-06","s":"Brighton","v":128},{"d":"2013-07","s":"Brighton","v":130},{"d":"2013-08","s":"Brighton","v":132.3},{"d":"2013-09","s":"Brighton","v":132.5},{"d":"2013-10","s":"Brighton","v":133},{"d":"2013-11","s":"Brighton","v":133.2},{"d":"2013-12","s":"Brighton","v":133.4},
{"d":"2014-01","s":"Brighton","v":133.8},{"d":"2014-02","s":"Brighton","v":134.5},{"d":"2014-03","s":"Brighton","v":135.5},{"d":"2014-04","s":"Brighton","v":136.5},{"d":"2014-05","s":"Brighton","v":139.5},{"d":"2014-06","s":"Brighton","v":142.5},{"d":"2014-07","s":"Brighton","v":145},{"d":"2014-08","s":"Brighton","v":146.5},{"d":"2014-09","s":"Brighton","v":147.4},{"d":"2014-10","s":"Brighton","v":146.8},{"d":"2014-11","s":"Brighton","v":146.5},{"d":"2014-12","s":"Brighton","v":146},
{"d":"2015-01","s":"Brighton","v":146},{"d":"2015-02","s":"Brighton","v":147.5},{"d":"2015-03","s":"Brighton","v":149},{"d":"2015-04","s":"Brighton","v":151},{"d":"2015-05","s":"Brighton","v":153},{"d":"2015-06","s":"Brighton","v":155},{"d":"2015-07","s":"Brighton","v":156},{"d":"2015-08","s":"Brighton","v":158},{"d":"2015-09","s":"Brighton","v":160},{"d":"2015-10","s":"Brighton","v":162},{"d":"2015-11","s":"Brighton","v":162},{"d":"2015-12","s":"Brighton","v":162},
{"d":"2016-01","s":"Brighton","v":162.5},{"d":"2016-02","s":"Brighton","v":164.5},{"d":"2016-03","s":"Brighton","v":165},{"d":"2016-04","s":"Brighton","v":165},{"d":"2016-05","s":"Brighton","v":166.2},{"d":"2016-06","s":"Brighton","v":170},{"d":"2016-07","s":"Brighton","v":172.2},{"d":"2016-08","s":"Brighton","v":173},{"d":"2016-09","s":"Brighton","v":171.6},{"d":"2016-10","s":"Brighton","v":171},{"d":"2016-11","s":"Brighton","v":170},{"d":"2016-12","s":"Brighton","v":172},
{"d":"2017-01","s":"Brighton","v":172.6},{"d":"2017-02","s":"Brighton","v":173},{"d":"2017-03","s":"Brighton","v":172.8},{"d":"2017-04","s":"Brighton","v":173.5},{"d":"2017-05","s":"Brighton","v":175},{"d":"2017-06","s":"Brighton","v":177},{"d":"2017-07","s":"Brighton","v":179.5},{"d":"2017-08","s":"Brighton","v":181.8},{"d":"2017-09","s":"Brighton","v":180.5},{"d":"2017-10","s":"Brighton","v":178.5},{"d":"2017-11","s":"Brighton","v":176.4},{"d":"2017-12","s":"Brighton","v":175.8},
{"d":"2018-01","s":"Brighton","v":175.6},{"d":"2018-02","s":"Brighton","v":176},{"d":"2018-03","s":"Brighton","v":174.7},{"d":"2018-04","s":"Brighton","v":176.5},{"d":"2018-05","s":"Brighton","v":179},{"d":"2018-06","s":"Brighton","v":182.5},{"d":"2018-07","s":"Brighton","v":181.5},{"d":"2018-08","s":"Brighton","v":179},{"d":"2018-09","s":"Brighton","v":176.5},{"d":"2018-10","s":"Brighton","v":178},{"d":"2018-11","s":"Brighton","v":180.5},{"d":"2018-12","s":"Brighton","v":182.5},
{"d":"2019-01","s":"Brighton","v":179.5},{"d":"2019-02","s":"Brighton","v":176.5},{"d":"2019-03","s":"Brighton","v":176.5},{"d":"2019-04","s":"Brighton","v":178.5},{"d":"2019-05","s":"Brighton","v":180.6},{"d":"2019-06","s":"Brighton","v":180.8},{"d":"2019-07","s":"Brighton","v":181},{"d":"2019-08","s":"Brighton","v":180.5},{"d":"2019-09","s":"Brighton","v":180},{"d":"2019-10","s":"Brighton","v":179.3},{"d":"2019-11","s":"Brighton","v":180},{"d":"2019-12","s":"Brighton","v":178.7},
{"d":"2020-01","s":"Brighton","v":179.5},{"d":"2020-02","s":"Brighton","v":180},{"d":"2020-03","s":"Brighton","v":180},{"d":"2020-04","s":"Brighton","v":182},{"d":"2020-05","s":"Brighton","v":183.7},{"d":"2020-06","s":"Brighton","v":185.2},{"d":"2020-07","s":"Brighton","v":186.8},{"d":"2020-08","s":"Brighton","v":188},{"d":"2020-09","s":"Brighton","v":189.2},{"d":"2020-10","s":"Brighton","v":190.8}
]},
"mark": {"type": "line", "strokeWidth": 4.5, "strokeJoin": "round", "strokeCap": "round"},
"encoding": {
  "x": {"field": "d", "type": "temporal",
    "scale": {"type": "utc", "domain": [{"year": 2005, "month": 1, "date": 1, "utc": true}, {"year": 2020, "month": 10, "date": 1, "utc": true}]},
    "axis": {"title": null, "format": "%Y", "tickCount": {"interval": "year", "step": 1}, "grid": false,
      "domainColor": "#7f7f7f", "tickColor": "#7f7f7f", "tickSize": 6, "labelPadding": 6,
      "labelFont": "DejaVu Sans", "labelFontWeight": "bold", "labelFontSize": 14, "labelColor": "#000000", "labelFlush": false}},
  "y": {"field": "v", "type": "quantitative",
    "scale": {"domain": [80, 240], "nice": false, "zero": false},
    "axis": {"title": null, "values": [80, 100, 120, 140, 160, 180, 200, 220, 240], "grid": true, "gridColor": "#d9d9d9", "gridWidth": 1,
      "domain": false, "ticks": false, "labelPadding": 19,
      "labelFont": "DejaVu Sans", "labelFontWeight": "bold", "labelFontSize": 14, "labelColor": "#000000"}},
  "color": {"field": "s", "type": "nominal",
    "scale": {"domain": ["London", "Cambridge", "Oxford", "Watford", "Brighton"], "range": ["#000000", "#7030A0", "#FF0000", "#D9A04B", "#00B050"]},
    "legend": {"orient": "none", "legendX": 29, "legendY": 4, "title": null, "padding": 0,
      "symbolType": "stroke", "symbolSize": 625, "symbolStrokeWidth": 5,
      "labelFont": "DejaVu Sans", "labelFontWeight": "bold", "labelFontSize": 14, "labelOffset": -2, "rowPadding": 6,
      "encode": {"labels": {"update": {"fill": [{"test": "datum.value === 'Watford'", "value": "#FFC000"}, {"scale": "color", "field": "value"}]}}}}
  }
}
}
